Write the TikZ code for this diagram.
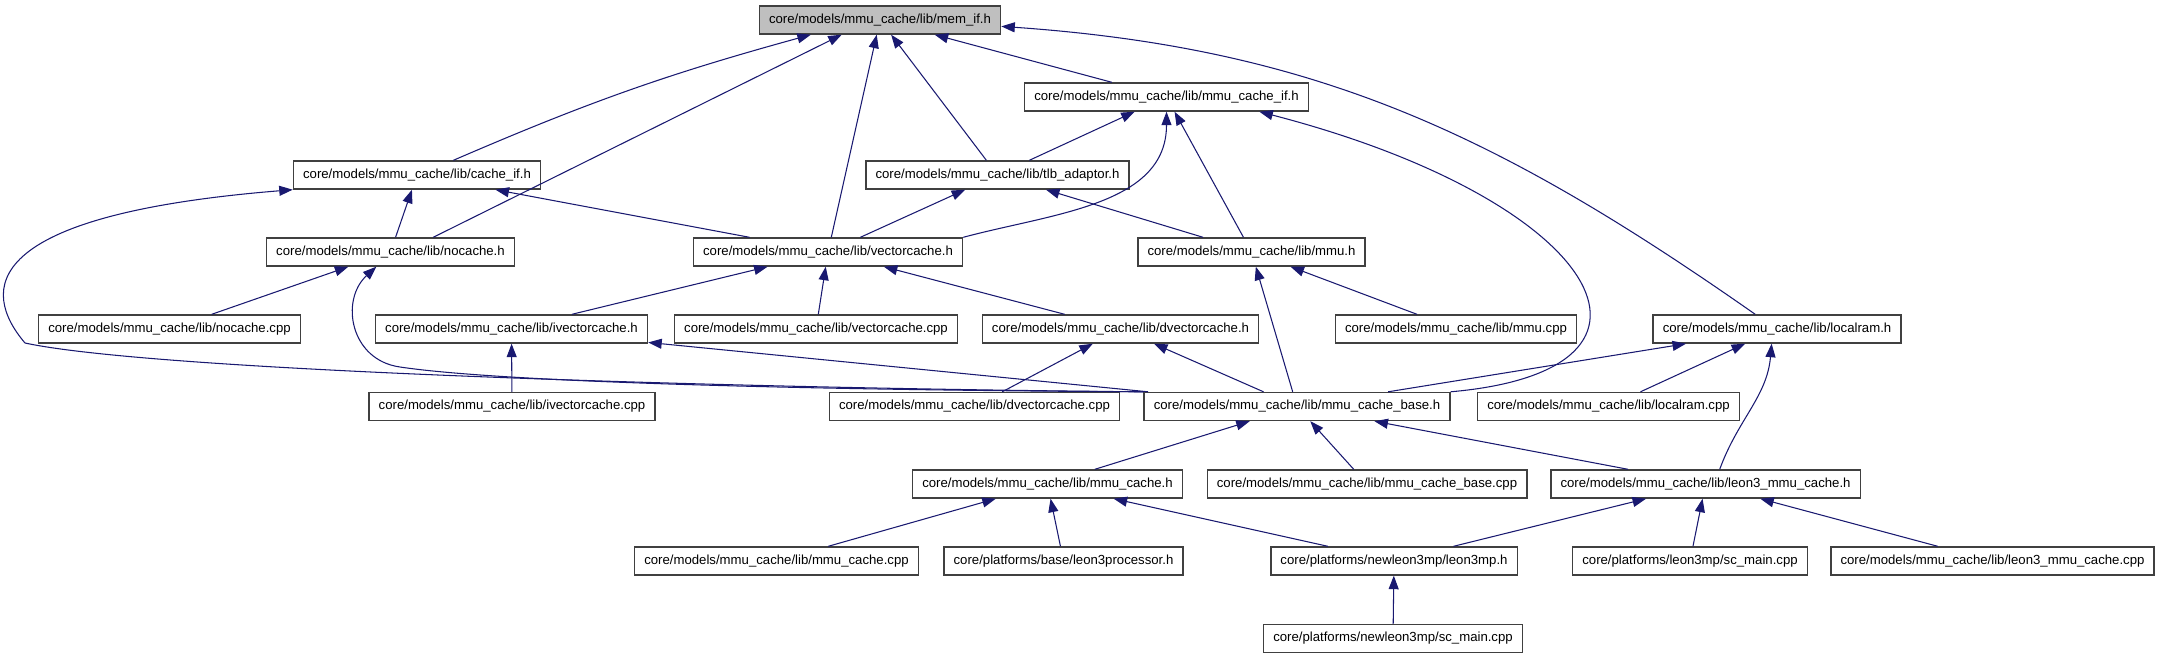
\documentclass[tikz,border=0pt]{standalone}
\usepackage{fontspec}
\setsansfont{Liberation Sans}
\usetikzlibrary{arrows.meta, positioning}
\definecolor{cedge}{HTML}{191970}
\definecolor{cline}{HTML}{404040}
\definecolor{cgrey}{HTML}{BFBFBF}
\tikzset{
  every picture/.style={font=\sffamily},
  box/.style={draw=cline, fill=#1, line width=0.8pt, inner xsep=5.5pt, inner ysep=0pt, minimum height=0.56cm, font=\sffamily\fontsize{7.5}{9}\selectfont},
  box/.default=white,
  arrow/.style={-{Triangle[length=0.27cm, width=0.2cm]}, draw=cedge, line width=0.6pt},
}

\begin{document}
\begin{tikzpicture}[x=0.02cm, y=-0.02cm]
  \useasboundingbox (0,0) rectangle (2159,659);
  % headers
  \node[box=cgrey] (memif) at (880,20) {core/models/mmu\_cache/lib/mem\_if.h};
  \node[box] (mmucacheif) at (1166.5,97) {core/models/mmu\_cache/lib/mmu\_cache\_if.h};
  \node[box] (cacheif) at (417,175) {core/models/mmu\_cache/lib/cache\_if.h};
  \node[box] (tlbadaptor) at (997.5,175) {core/models/mmu\_cache/lib/tlb\_adaptor.h};
  \node[box] (nocacheh) at (390.5,252) {core/models/mmu\_cache/lib/nocache.h};
  \node[box] (vectorcacheh) at (828,252) {core/models/mmu\_cache/lib/vectorcache.h};
  \node[box] (mmuh) at (1251.5,252) {core/models/mmu\_cache/lib/mmu.h};
  \node[box] (nocachecpp) at (169.5,329) {core/models/mmu\_cache/lib/nocache.cpp};
  \node[box] (ivectorcacheh) at (511.5,329) {core/models/mmu\_cache/lib/ivectorcache.h};
  \node[box] (vectorcachecpp) at (816,329) {core/models/mmu\_cache/lib/vectorcache.cpp};
  \node[box] (dvectorcacheh) at (1120.5,329) {core/models/mmu\_cache/lib/dvectorcache.h};
  \node[box] (mmucpp) at (1456,329) {core/models/mmu\_cache/lib/mmu.cpp};
  \node[box] (localramh) at (1777,329) {core/models/mmu\_cache/lib/localram.h};
  \node[box] (ivectorcachecpp) at (512,406.5) {core/models/mmu\_cache/lib/ivectorcache.cpp};
  \node[box] (dvectorcachecpp) at (974.5,406.5) {core/models/mmu\_cache/lib/dvectorcache.cpp};
  \node[box] (cachebaseh) at (1297,406.5) {core/models/mmu\_cache/lib/mmu\_cache\_base.h};
  \node[box] (localramcpp) at (1608.5,406.5) {core/models/mmu\_cache/lib/localram.cpp};
  \node[box] (mmucacheh) at (1047.5,484) {core/models/mmu\_cache/lib/mmu\_cache.h};
  \node[box] (cachebasecpp) at (1367,484) {core/models/mmu\_cache/lib/mmu\_cache\_base.cpp};
  \node[box] (leonh) at (1705.5,484) {core/models/mmu\_cache/lib/leon3\_mmu\_cache.h};
  \node[box] (mmucachecpp) at (776.5,561) {core/models/mmu\_cache/lib/mmu\_cache.cpp};
  \node[box] (leonproc) at (1063.5,561) {core/platforms/base/leon3processor.h};
  \node[box] (leonmph) at (1394,561) {core/platforms/newleon3mp/leon3mp.h};
  \node[box] (leonmain) at (1690,561) {core/platforms/leon3mp/sc\_main.cpp};
  \node[box] (leoncpp) at (1992.5,561) {core/models/mmu\_cache/lib/leon3\_mmu\_cache.cpp};
  \node[box] (newmain) at (1393,638.5) {core/platforms/newleon3mp/sc\_main.cpp};
  % includes of the upper rows
  \draw[arrow] (cacheif.22) to[bend left=4] (memif.-168);
  \draw[arrow] (nocacheh.19) -- (memif.-159);
  \draw[arrow] (vectorcacheh) -- (memif);
  \draw[arrow] (tlbadaptor) -- (memif);
  \draw[arrow] (mmucacheif) -- (memif);
  \draw[arrow] (localramh.146) to[out=145, in=-4] (memif.-3);
  \draw[arrow] (tlbadaptor) -- (mmucacheif);
  \draw[arrow] (vectorcacheh.north east) to[out=15, in=-90] (mmucacheif.south);
  \draw[arrow] (mmuh) -- (mmucacheif);
  \draw[arrow] (cachebaseh.north east) .. controls (1700,370) and (1600,200) .. (mmucacheif.-9);
  \draw[arrow] (nocacheh) -- (cacheif);
  \draw[arrow] (vectorcacheh) -- (cacheif);
  \draw[arrow] (cachebaseh.north west) .. controls (700,388) and (150,370) .. (25,343) .. controls (-20,290) and (-20,215) .. (cacheif.south west);
  \draw[arrow] (vectorcacheh) -- (tlbadaptor);
  \draw[arrow] (mmuh) -- (tlbadaptor);
  \draw[arrow] (nocachecpp) -- (nocacheh);
  \draw[arrow] (cachebaseh.north west) .. controls (800,390) and (500,382) .. (400,367) .. controls (350,360) and (340,300) .. (nocacheh.-134);
  \draw[arrow] (ivectorcacheh) -- (vectorcacheh);
  \draw[arrow] (vectorcachecpp) -- (vectorcacheh);
  \draw[arrow] (dvectorcacheh) -- (vectorcacheh);
  \draw[arrow] (cachebaseh) -- (mmuh);
  \draw[arrow] (mmucpp) -- (mmuh);
  % includes of the middle rows
  \draw[arrow] (ivectorcachecpp) -- (ivectorcacheh);
  \draw[arrow] (cachebaseh) -- (ivectorcacheh);
  \draw[arrow] (dvectorcachecpp) -- (dvectorcacheh);
  \draw[arrow] (cachebaseh) -- (dvectorcacheh);
  \draw[arrow] (cachebaseh) -- (localramh);
  \draw[arrow] (localramcpp) -- (localramh);
  \draw[arrow] (leonh.46) to[out=70, in=-95] (localramh.-110);
  % includes of the lower rows
  \draw[arrow] (mmucacheh) -- (cachebaseh);
  \draw[arrow] (cachebasecpp) -- (cachebaseh);
  \draw[arrow] (leonh) -- (cachebaseh);
  \draw[arrow] (mmucachecpp) -- (mmucacheh);
  \draw[arrow] (leonproc) -- (mmucacheh);
  \draw[arrow] (leonmph) -- (mmucacheh);
  \draw[arrow] (leonmph) -- (leonh);
  \draw[arrow] (leonmain) -- (leonh);
  \draw[arrow] (leoncpp) -- (leonh);
  \draw[arrow] (newmain) -- (leonmph);
\end{tikzpicture}
\end{document}
